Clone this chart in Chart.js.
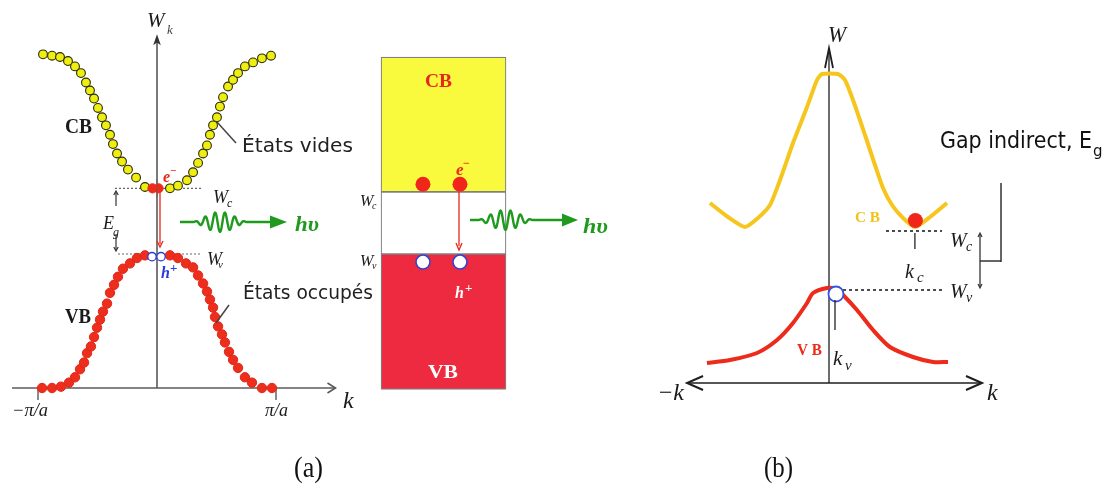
<!DOCTYPE html>
<html><head><meta charset="utf-8">
<script src="https://cdn.jsdelivr.net/npm/chart.js@4.4.1/dist/chart.umd.min.js"></script>
<style>html,body{margin:0;padding:0;background:#fff;overflow:hidden}#wrap{position:relative;width:1103px;height:484px}canvas{display:block}</style>
</head><body><div id="wrap"><canvas id="c" width="1103" height="484"></canvas></div>
<script>
// ---------- Panel (a): direct gap, W(k) sampled as dots ----------
const cbA_k = [-0.958,-0.882,-0.815,-0.748,-0.689,-0.639,-0.597,-0.563,-0.529,-0.496,-0.462,-0.429,-0.395,-0.370,-0.336,-0.294,-0.244,-0.176,-0.101,
                0.109,0.176,0.252,0.303,0.345,0.387,0.420,0.445,0.471,0.504,0.529,0.555,0.597,0.639,0.681,0.739,0.807,0.882,0.958];
const cbA_W = [2.49,2.48,2.47,2.44,2.40,2.35,2.28,2.22,2.16,2.09,2.02,1.96,1.89,1.82,1.75,1.69,1.63,1.57,1.50,
                1.49,1.51,1.55,1.61,1.68,1.75,1.81,1.89,1.96,2.02,2.10,2.17,2.25,2.30,2.35,2.40,2.43,2.46,2.48];
const vbA_k = [-0.966,-0.882,-0.807,-0.739,-0.689,-0.647,-0.613,-0.588,-0.555,-0.529,-0.504,-0.479,-0.454,-0.420,-0.395,-0.361,-0.328,-0.286,-0.227,-0.168,-0.101,
                0.109,0.176,0.244,0.303,0.345,0.387,0.420,0.445,0.471,0.487,0.513,0.546,0.571,0.605,0.639,0.681,0.739,0.798,0.882,0.966];
const vbA_W = [0,0,0.01,0.04,0.08,0.14,0.19,0.26,0.31,0.38,0.45,0.51,0.57,0.63,0.71,0.77,0.83,0.89,0.93,0.97,0.99,
                0.99,0.97,0.93,0.90,0.84,0.78,0.72,0.66,0.60,0.53,0.46,0.40,0.34,0.27,0.21,0.15,0.08,0.04,0,0];
const electronA_k = [-0.038, 0.013];
const electronA_W = [1.49, 1.49];
const holeA_k = [-0.042, 0.034];
const holeA_W = [0.98, 0.98];
const levelA_W = [1.49, 1.0];           // Wc, Wv
const levelA_kFrom = [-0.353, -0.328];
const levelA_kTo = [0.378, 0.361];
const tickA_k = [-1, 1];
const tickA_labels = ['\u2212\u03c0/a', '\u03c0/a'];

// ---------- Middle: band boxes ----------
const boxK = 2.4076;
const boxBandLo = [-0.01, 1.0, 1.463];   // VB, gap, CB
const boxBandHi = [1.0, 1.463, 2.47];
const boxBandColors = ['#ee2a40', '#ffffff', '#f9f93e'];
const boxElectron_k = [2.235, 2.546];
const boxElectron_W = [1.52, 1.52];
const boxHole_k = [2.235, 2.546];
const boxHole_W = [0.94, 0.94];

// ---------- Panel (b): indirect gap ----------
const cbB_k = [-0.992,-0.842,-0.700,-0.592,-0.492,-0.408,-0.300,-0.183,-0.100,-0.058,0.075,0.133,0.200,0.300,0.383,0.450,0.525,0.617,0.717,0.842,0.983];
const cbB_W = [1.80,1.66,1.56,1.65,1.78,2.03,2.40,2.76,3.03,3.09,3.09,3.03,2.83,2.48,2.18,1.95,1.78,1.65,1.56,1.66,1.80];
const vbB_k = [-1.017,-0.825,-0.600,-0.433,-0.300,-0.183,-0.133,-0.017,0.058,0.117,0.233,0.367,0.508,0.700,0.867,0.992];
const vbB_W = [0.20,0.23,0.30,0.43,0.60,0.80,0.90,0.95,0.94,0.88,0.73,0.53,0.36,0.26,0.21,0.21];
const electronB = [0.72, 1.625];
const holeB = [0.058, 0.89];
const levelB_W = [1.52, 0.93];          // Wc, Wv
const levelB_kFrom = [0.475, 0.117];
const levelB_kTo = [0.942, 0.967];

// ---------- scale layout (pixel anchors) ----------
const CW = 1103, CH = 484;
const A = {k0:157, ku:119, w0:388, wu:134};
const B = {k0:829, ku:120, w0:383, wu:100};
const pts = (ks, ws) => ks.map((k,i)=>({x:k, y:ws[i]}));

const SERIF = '"Liberation Serif", "Times New Roman", serif';
const SANS = '"DejaVu Sans", "Noto Sans", sans-serif';

function txt(c, s, x, y, font, color, w, align){
  c.save(); c.font = font; c.fillStyle = color; c.textBaseline = 'alphabetic';
  c.textAlign = align || 'left';
  if (w){ const m = c.measureText(s).width; c.translate(x, y); c.scale(w/m, 1); c.fillText(s, 0, 0); }
  else c.fillText(s, x, y);
  c.restore();
}
function line(c, x1, y1, x2, y2, color, lw, dash){
  c.save(); c.strokeStyle = color; c.lineWidth = lw; if (dash) c.setLineDash(dash);
  c.beginPath(); c.moveTo(x1,y1); c.lineTo(x2,y2); c.stroke(); c.restore();
}
function chevron(c, tx, ty, dx, dy, len, half, color, lw){
  const bx = tx-dx*len, by = ty-dy*len, px = -dy, py = dx;
  c.save(); c.strokeStyle = color; c.lineWidth = lw; c.lineJoin='miter';
  c.beginPath(); c.moveTo(bx+px*half, by+py*half); c.lineTo(tx,ty); c.lineTo(bx-px*half, by-py*half); c.stroke(); c.restore();
}
function headFill(c, tx, ty, dx, dy, len, half, color){
  const bx = tx-dx*len, by = ty-dy*len, px = -dy, py = dx;
  c.save(); c.fillStyle = color;
  c.beginPath(); c.moveTo(bx+px*half, by+py*half); c.lineTo(tx,ty); c.lineTo(bx-px*half, by-py*half);
  c.lineTo(bx+dx*len*0.25, by+dy*len*0.25); c.closePath(); c.fill(); c.restore();
}
function wave(c, x0, y, xs, xe, xa, xt, color){
  c.save(); c.strokeStyle = color; c.lineWidth = 2.4; c.lineJoin='round';
  c.beginPath(); c.moveTo(x0, y);
  for (let x = xs; x <= xe; x += 0.5){
    const t = (x-xs)/(xe-xs);
    const amp = 10*Math.pow(Math.sin(Math.PI*t), 1.4);
    c.lineTo(x, y - amp*Math.sin(2*Math.PI*5.5*t));
  }
  c.lineTo(xa, y); c.stroke();
  c.fillStyle = color; c.beginPath(); c.moveTo(xa, y-6.5); c.lineTo(xt, y); c.lineTo(xa, y+6.5); c.closePath(); c.fill();
  c.restore();
}

const annot = {
  id: 'annot',
  beforeDatasetsDraw(chart){
    const c = chart.ctx, xa = chart.scales.xa, ya = chart.scales.ya, xb = chart.scales.xb, yb = chart.scales.yb;
    const X = v => xa.getPixelForValue(v), Y = v => ya.getPixelForValue(v);
    const XB = v => xb.getPixelForValue(v), YB = v => yb.getPixelForValue(v);
    const gA = '#5a5a5a';
    line(c, X(-1.218), Y(0), X(1.50), Y(0), gA, 1.6);
    chevron(c, X(1.50), Y(0), 1, 0, 8, 5, gA, 1.6);
    line(c, X(0), Y(0), X(0), Y(2.60), gA, 1.6);
    headFill(c, X(0), Y(2.64), 0, -1, 11, 3.8, '#333');
    tickA_k.forEach(k => line(c, X(k), Y(0), X(k), Y(-0.09), gA, 1.4));
    const gB = '#1e1e1e';
    line(c, XB(-1.183), YB(0), XB(1.275), YB(0), gB, 1.5);
    chevron(c, XB(1.275), YB(0), 1, 0, 16, 7, gB, 2);
    chevron(c, XB(-1.183), YB(0), -1, 0, 16, 7, gB, 2);
    line(c, XB(0), YB(0), XB(0), YB(3.35), gB, 1.3);
    chevron(c, XB(0), YB(3.35), 0, -1, 20, 4, gB, 1.8);
  },
  afterDatasetsDraw(chart){
    const c = chart.ctx, xb = chart.scales.xb, yb = chart.scales.yb;
    const XB = v => xb.getPixelForValue(v), YB = v => yb.getPixelForValue(v);
    const xa = chart.scales.xa, ya = chart.scales.ya; const X = v => xa.getPixelForValue(v), Y = v => ya.getPixelForValue(v);
    const ink = '#1a1a1a';
    // thin axis line visible through the electron mark
    line(c, X(0), Y(1.56), X(0), Y(1.42), 'rgba(90,90,90,0.6)', 1.2);
    // ---- panel a labels ----
    txt(c, 'W', 147, 27, 'italic 21px ' + SERIF, ink);
    txt(c, 'k', 167, 34, 'italic 13px ' + SERIF, '#444');
    txt(c, 'k', 343, 408, 'italic 24px ' + SERIF, ink);
    txt(c, tickA_labels[0], X(tickA_k[0]) - 26, 416, 'italic 18px ' + SERIF, ink, 36);
    txt(c, tickA_labels[1], X(tickA_k[1]) - 11, 416, 'italic 18px ' + SERIF, ink, 23);
    txt(c, 'CB', 65, 133, 'bold 20px ' + SERIF, ink, 27);
    txt(c, 'VB', 65, 323, 'bold 20px ' + SERIF, ink, 26);
    txt(c, '\u00c9tats vides', 242, 152, '20px ' + SANS, '#222', 111);
    line(c, 217, 122, 236, 143, '#444', 1.5);
    txt(c, '\u00c9tats occup\u00e9s', 243, 299, '20px ' + SANS, '#222', 130);
    line(c, 216, 323, 229, 305, '#444', 1.5);
    txt(c, 'W', 213, 203, 'italic 18px ' + SERIF, ink);
    txt(c, 'c', 227, 207, 'italic 12px ' + SERIF, ink);
    txt(c, 'W', 207, 265, 'italic 18px ' + SERIF, ink);
    txt(c, 'v', 218, 268, 'italic 11px ' + SERIF, ink);
    txt(c, 'E', 103, 229, 'italic 18px ' + SERIF, ink);
    txt(c, 'g', 113, 236, 'italic 12px ' + SERIF, ink);
    line(c, 116, 206, 116, 192, '#333', 1.2); chevron(c, 116, 191, 0, -1, 4, 2.2, '#333', 1.2);
    line(c, 116, 234, 116, 250, '#333', 1.2); chevron(c, 116, 251, 0, 1, 4, 2.2, '#333', 1.2);
    txt(c, 'e', 163, 182, 'bold italic 16px ' + SERIF, '#e8261a');
    txt(c, '\u2212', 170, 174, 'bold 11px ' + SERIF, '#e8261a');
    txt(c, 'h', 161, 278, 'bold italic 16px ' + SERIF, '#2a3bd6');
    txt(c, '+', 170, 272, 'bold 13px ' + SERIF, '#2a3bd6');
    line(c, 160, 193, 160, 244, '#e8261a', 1.3);
    chevron(c, 160, 247, 0, 1, 6, 3, '#e8261a', 1.3);
    wave(c, 180, 222, 193, 247, 270, 287, '#1f9a1f');
    txt(c, 'h\u03c5', 295, 231, 'bold italic 20px ' + SERIF, '#1f9a1f', 24);

    // ---- box labels ----
    txt(c, 'CB', 425, 87, 'bold 19px ' + SERIF, '#e8261a', 27);
    txt(c, 'VB', 428, 378, 'bold 19px ' + SERIF, '#ffffff', 30);
    txt(c, 'e', 456, 175, 'bold italic 17px ' + SERIF, '#ee2a1a');
    txt(c, '\u2212', 463, 167, 'bold 12px ' + SERIF, '#ee2a1a');
    txt(c, 'h', 455, 298, 'bold italic 16px ' + SERIF, '#ffffff');
    txt(c, '+', 465, 292, 'bold 13px ' + SERIF, '#ffffff');
    txt(c, 'W', 360, 206, 'italic 16px ' + SERIF, ink);
    txt(c, 'c', 372, 209, 'italic 10px ' + SERIF, ink);
    txt(c, 'W', 360, 266, 'italic 16px ' + SERIF, ink);
    txt(c, 'v', 372, 269, 'italic 10px ' + SERIF, ink);
    line(c, 459, 192, 459, 246, '#e8261a', 1.3);
    chevron(c, 459, 250, 0, 1, 7, 3, '#e8261a', 1.3);
    wave(c, 470, 220, 478, 533, 562, 578, '#1f9a1f');
    txt(c, 'h\u03c5', 583, 233, 'bold italic 20px ' + SERIF, '#1f9a1f', 25);

    // ---- panel b labels ----
    txt(c, 'W', 828, 42, 'italic 24px ' + SERIF, ink, 18);
    txt(c, '\u2212k', 684, 400, 'italic 24px ' + SERIF, ink, null, 'right');
    txt(c, 'k', 987, 400, 'italic 24px ' + SERIF, ink);
    txt(c, 'C B', 855, 222, 'bold 15px ' + SERIF, '#f2c21a', 25);
    txt(c, 'V B', 797, 355, 'bold 17px ' + SERIF, '#ee2a1a', 25);
    line(c, XB(electronB[0]) - 0.5, YB(levelB_W[0]) + 2, XB(electronB[0]) - 0.5, 249, '#222', 1.3);
    txt(c, 'k', 905, 278, 'italic 20px ' + SERIF, ink);
    txt(c, 'c', 917, 282, 'italic 15px ' + SERIF, ink);
    line(c, 835, 300, 835, 330, '#222', 1.3);
    txt(c, 'k', 833, 365, 'italic 21px ' + SERIF, ink);
    txt(c, 'v', 845, 370, 'italic 15px ' + SERIF, ink);
    txt(c, 'W', 950, 247, 'italic 20px ' + SERIF, ink);
    txt(c, 'c', 966, 251, 'italic 14px ' + SERIF, ink);
    txt(c, 'W', 950, 298, 'italic 20px ' + SERIF, ink);
    txt(c, 'v', 966, 302, 'italic 14px ' + SERIF, ink);
    line(c, 980, 234, 980, 287, '#333', 1.3);
    chevron(c, 980, 233, 0, -1, 4, 2, '#333', 1.2);
    chevron(c, 980, 288, 0, 1, 4, 2, '#333', 1.2);
    line(c, 980, 261, 1001, 261, '#333', 1.5);
    line(c, 1001, 183, 1001, 262, '#333', 1.5);
    txt(c, 'Gap indirect, E', 940, 148, '23px ' + SANS, '#111', 152);
    txt(c, 'g', 1093, 156, '15px ' + SANS, '#111');

    txt(c, '(a)', 294, 477, '30px ' + SERIF, '#111', 29);
    txt(c, '(b)', 764, 477, '30px ' + SERIF, '#111', 29);
  }
};

const datasets = [
  {label:'e- a', data: pts(electronA_k, electronA_W), xAxisID:'xa', yAxisID:'ya', pointRadius:4.6, pointBackgroundColor:'#ee2a1a', pointBorderColor:'#ee2a1a', pointBorderWidth:1, order:1},
  {label:'h+ a', data: pts(holeA_k, holeA_W), xAxisID:'xa', yAxisID:'ya', pointRadius:4.2, pointBackgroundColor:'#ffffff', pointBorderColor:'#2a3bd6', pointBorderWidth:1.3, order:1},
  {label:'CB a', data: pts(cbA_k, cbA_W), xAxisID:'xa', yAxisID:'ya', pointRadius:4.4, pointBackgroundColor:'#eeee10', pointBorderColor:'#2b2b08', pointBorderWidth:1.1, order:2},
  {label:'VB a', data: pts(vbA_k, vbA_W), xAxisID:'xa', yAxisID:'ya', pointRadius:4.7, pointBackgroundColor:'#ee2e1c', pointBorderColor:'#e0261a', pointBorderWidth:1, order:2},
  {label:'Wc a', data:[{x:levelA_kFrom[0],y:levelA_W[0]},{x:levelA_kTo[0],y:levelA_W[0]}], xAxisID:'xa', yAxisID:'ya', showLine:true, pointRadius:0, borderColor:'#666', borderWidth:1.2, borderDash:[2,2], order:3},
  {label:'Wv a', data:[{x:levelA_kFrom[1],y:levelA_W[1]},{x:levelA_kTo[1],y:levelA_W[1]}], xAxisID:'xa', yAxisID:'ya', showLine:true, pointRadius:0, borderColor:'#666', borderWidth:1.2, borderDash:[2,2], order:3},
  {label:'box e-', data: pts(boxElectron_k, boxElectron_W), xAxisID:'xa', yAxisID:'ya', pointRadius:7.5, pointBackgroundColor:'#f0261a', pointBorderColor:'#f0261a', pointBorderWidth:0, order:1},
  {label:'box h+', data: pts(boxHole_k, boxHole_W), xAxisID:'xa', yAxisID:'ya', pointRadius:7, pointBackgroundColor:'#ffffff', pointBorderColor:'#3344cc', pointBorderWidth:1.6, order:1},
  ...boxBandLo.map((lo,i)=>({type:'bar', label:'band'+i, data:[{x:boxK, y:[lo, boxBandHi[i]]}], xAxisID:'xa', yAxisID:'ya', grouped:false, barThickness:125, backgroundColor:boxBandColors[i], borderColor:'#808080', borderWidth:1.2, borderSkipped:false, order:10})),
  {label:'e- b', data:[{x:electronB[0], y:electronB[1]}], xAxisID:'xb', yAxisID:'yb', pointRadius:7.5, pointBackgroundColor:'#f0261a', pointBorderColor:'#f0261a', pointBorderWidth:0, order:1},
  {label:'h+ b', data:[{x:holeB[0], y:holeB[1]}], xAxisID:'xb', yAxisID:'yb', pointRadius:7.5, pointBackgroundColor:'#ffffff', pointBorderColor:'#3a52e0', pointBorderWidth:1.8, order:1},
  {label:'CB b', data: pts(cbB_k, cbB_W), xAxisID:'xb', yAxisID:'yb', showLine:true, pointRadius:0, borderColor:'#f6c61e', borderWidth:4, tension:0.2, order:4},
  {label:'VB b', data: pts(vbB_k, vbB_W), xAxisID:'xb', yAxisID:'yb', showLine:true, pointRadius:0, borderColor:'#ee2a1a', borderWidth:4, tension:0.25, order:4},
  {label:'Wc b', data:[{x:levelB_kFrom[0],y:levelB_W[0]},{x:levelB_kTo[0],y:levelB_W[0]}], xAxisID:'xb', yAxisID:'yb', showLine:true, pointRadius:0, borderColor:'#111', borderWidth:1.6, borderDash:[3,3], order:5},
  {label:'Wv b', data:[{x:levelB_kFrom[1],y:levelB_W[1]},{x:levelB_kTo[1],y:levelB_W[1]}], xAxisID:'xb', yAxisID:'yb', showLine:true, pointRadius:0, borderColor:'#111', borderWidth:1.6, borderDash:[3,3], order:5}
];

const hid = (axis, min, max) => ({type:'linear', axis, display:false, min, max, bounds:'data', grace:0, offset:false});
new Chart(document.getElementById('c'), {
  type: 'scatter',
  data: { datasets },
  options: {
    responsive:false, animation:false, events:[],
    layout:{padding:0, autoPadding:false},
    plugins:{legend:{display:false}, tooltip:{enabled:false}, title:{display:false}},
    scales:{
      xa: hid('x', -A.k0/A.ku, (CW-A.k0)/A.ku),
      ya: hid('y', -(CH-A.w0)/A.wu, A.w0/A.wu),
      xb: hid('x', -B.k0/B.ku, (CW-B.k0)/B.ku),
      yb: hid('y', -(CH-B.w0)/B.wu, B.w0/B.wu)
    }
  },
  plugins:[annot]
});
</script></body></html>
